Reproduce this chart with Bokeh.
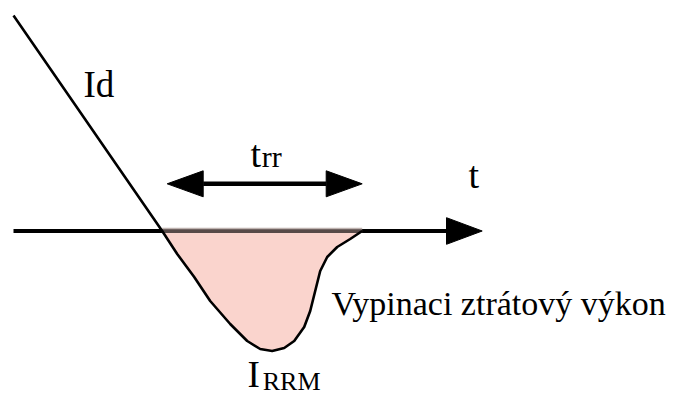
from bokeh.plotting import figure
from bokeh.models import Range1d
from bokeh.core.properties import value
from bokeh.embed import file_html
from bokeh.resources import INLINE

# ---- data (time t, current i); axis crossing at t=0, i=0 ----
id_t = [-148.7, 0.0]          # forward current Id ramping down
id_i = [215.5, 0.0]
rec_t = [0, 15, 32, 48, 68, 85, 98, 110, 122, 132, 142, 148, 153, 158, 165, 175, 188, 200]
rec_i = [0, -23, -46, -70, -93, -110, -118, -120, -117, -110, -96, -80, -60, -40, -26, -16, -8, 0]
trr_start, trr_end = 5.0, 200.0   # reverse recovery time span
trr_level = 47.2
axis_start, axis_end = -148.7, 320.0

FONT = value("Liberation Serif")

p = figure(width=667, height=397,
           x_range=Range1d(-161.7, 505.3), y_range=Range1d(-166.5, 230.5),
           x_axis_type=None, y_axis_type=None,
           output_backend="svg", toolbar_location=None, min_border=0)
p.grid.visible = False
p.outline_line_color = None
p.background_fill_color = "white"


def head(tip, direction, level, length, half):
    base = tip - direction * length
    return [tip, base, base], [level, level + half, level - half]


# shaded switching-loss area
p.patch(rec_t, rec_i, fill_color="#FAD4CD", line_color=None)

# time axis
ax_len = 35.7
p.line([axis_start, axis_end - ax_len], [0, 0], line_color="black", line_width=4)
# brownish band where the axis passes over the shaded area
p.line([rec_t[0], rec_t[-1]], [0, 0], line_color="#FAD4CD", line_alpha=0.35, line_width=4)
p.line([rec_t[0], rec_t[-1]], [2.6, 2.6], line_color="#bfb3b0", line_width=1.5)
hx, hy = head(axis_end, 1, 0, ax_len, 13.3)
p.patch(hx, hy, fill_color="black", line_color="black", line_width=1)

# current curve
p.line(id_t + rec_t[1:], id_i + rec_i[1:], line_color="black", line_width=2.6,
       line_join="round")

# trr double arrow
hl, hh = 36.0, 13.0
p.line([trr_start + hl, trr_end - hl], [trr_level, trr_level], line_color="black", line_width=4.5)
for tip, d in ((trr_start, -1), (trr_end, 1)):
    hx, hy = head(tip, d, trr_level, hl, hh)
    p.patch(hx, hy, fill_color="black", line_color="black", line_width=1)

# labels (baseline shifted up to compensate the rendered text box offset)
def label(x, y, txt, size):
    p.text(x=[x], y=[y + 0.36 * size], text=[txt], text_font=FONT,
           text_font_size=f"{size}px",
           text_color="black", text_baseline="alphabetic", text_align="left")

label(-78.7, 133.5, "Id", 37)
label(88.3, 63.8, "t", 38)
label(99.5, 63.5, "rr", 30)
label(306.3, 42.3, "t", 38)
label(169.3, -84.5, "Vypinaci ztrátový výkon", 34)
label(85.3, -157.0, "I", 37)
label(100.5, -160.0, "RRM", 26)

open("out.html", "w").write(file_html(p, INLINE))
